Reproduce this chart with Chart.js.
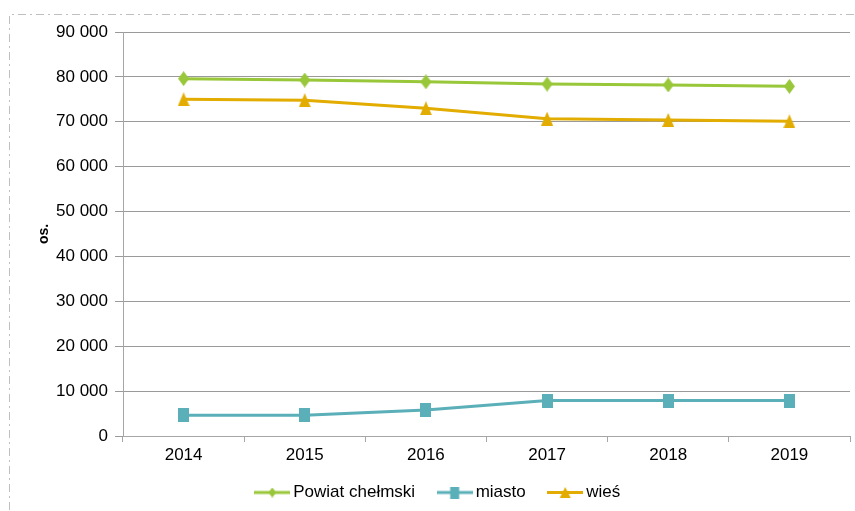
<!DOCTYPE html>
<html>
<head>
<meta charset="utf-8">
<script src="https://cdn.jsdelivr.net/npm/chart.js@4.4.0/dist/chart.umd.min.js"></script>
<style>
  html, body { margin: 0; padding: 0; background: #ffffff; }
  #wrap { width: 855px; height: 511px; position: relative; }
</style>
</head>
<body>
<div id="wrap"><canvas id="c" width="855" height="511"></canvas></div>
<script>
const categories = ['2014', '2015', '2016', '2017', '2018', '2019'];
const seriesNames = ['Powiat chełmski', 'miasto', 'wieś'];
const powiatValues = [79600, 79300, 78900, 78400, 78200, 77900];
const miastoValues = [4600, 4600, 5800, 7900, 7900, 7900];
const wiesValues = [75000, 74800, 73000, 70700, 70400, 70100];
const yTicks = [0, 10000, 20000, 30000, 40000, 50000, 60000, 70000, 80000, 90000];
const yTitle = 'os.';

const GREEN = '#99C73A';
const TEAL = '#5AAFB8';
const GOLD = '#E2AC00';
const FONT = '"Liberation Sans", Arial, sans-serif';

function makeMarker(shape, color, w, h, lineLen) {
  const cw = lineLen || w;
  const c = document.createElement('canvas');
  c.width = cw; c.height = h;
  const ctx = c.getContext('2d');
  if (lineLen) {
    ctx.strokeStyle = color; ctx.lineWidth = 3;
    ctx.beginPath(); ctx.moveTo(0, h / 2); ctx.lineTo(cw, h / 2); ctx.stroke();
  }
  const ox = (cw - w) / 2;
  ctx.fillStyle = color;
  ctx.beginPath();
  if (shape === 'diamond') {
    ctx.moveTo(ox + w / 2, 0); ctx.lineTo(ox + w, h / 2); ctx.lineTo(ox + w / 2, h); ctx.lineTo(ox, h / 2);
  } else if (shape === 'square') {
    ctx.rect(ox, 0, w, h);
  } else {
    ctx.moveTo(ox + w / 2, 0); ctx.lineTo(ox + w, h); ctx.lineTo(ox, h);
  }
  ctx.closePath(); ctx.fill();
  return c;
}

const markers = [
  makeMarker('diamond', GREEN, 11, 15),
  makeMarker('square', TEAL, 11, 14),
  makeMarker('triangle', GOLD, 12, 14)
];
const legendMarkers = [
  makeMarker('diamond', GREEN, 8, 10, 36),
  makeMarker('square', TEAL, 9, 12, 36),
  makeMarker('triangle', GOLD, 11, 11, 36)
];

function fmt(v) {
  return String(v).replace(/\B(?=(\d{3})+(?!\d))/g, ' ');
}

const borderPlugin = {
  id: 'dashBorder',
  beforeDraw(chart) {
    const ctx = chart.ctx;
    ctx.save();
    ctx.strokeStyle = '#C0C0C0';
    ctx.lineWidth = 1;
    ctx.setLineDash([8, 4, 2, 4]);
    ctx.beginPath();
    ctx.moveTo(9.5, 600); ctx.lineTo(9.5, 14.5); ctx.lineTo(900, 14.5);
    ctx.stroke();
    ctx.restore();
  }
};

const colors = [GREEN, TEAL, GOLD];
const values = [powiatValues, miastoValues, wiesValues];

new Chart(document.getElementById('c'), {
  type: 'line',
  data: {
    labels: categories,
    datasets: seriesNames.map((name, i) => ({
      label: name,
      data: values[i],
      borderColor: colors[i],
      backgroundColor: colors[i],
      borderWidth: 3,
      pointStyle: markers[i],
      pointRadius: 6,
      pointHoverRadius: 6,
      tension: 0,
      fill: false
    }))
  },
  options: {
    responsive: false,
    animation: false,
    devicePixelRatio: 1,
    layout: { autoPadding: false, padding: { left: 30, right: 5, top: 32, bottom: 0 } },
    plugins: {
      tooltip: { enabled: false },
      legend: {
        position: 'bottom',
        labels: {
          usePointStyle: true,
          pointStyleWidth: 25,
          padding: 27,
          color: '#000000',
          font: { family: FONT, size: 17 },
          generateLabels(chart) {
            const items = Chart.defaults.plugins.legend.labels.generateLabels(chart);
            items.forEach((it, i) => { it.pointStyle = legendMarkers[i]; });
            return items;
          }
        }
      }
    },
    scales: {
      x: {
        offset: true,
        grid: { offset: true, drawOnChartArea: false, drawTicks: true, tickLength: 6, color: '#A6A6A6' },
        border: { color: '#A6A6A6', width: 1 },
        ticks: { color: '#000000', font: { family: FONT, size: 17 }, padding: 3, maxRotation: 0 },
        afterFit(scale) {
          scale.height = 21;
          scale.paddingLeft = 0;
          scale.paddingRight = 0;
          scale._computeLabelArea = function () { return undefined; };
        }
      },
      y: {
        min: 0,
        max: 90000,
        afterBuildTicks(scale) { scale.ticks = yTicks.map(v => ({ value: v })); },
        grid: { color: '#9A9A9A', tickLength: 8, drawTicks: true },
        border: { color: '#A6A6A6', width: 1 },
        ticks: { color: '#000000', font: { family: FONT, size: 17 }, padding: 7, callback: v => fmt(v) },
        title: { display: true, text: yTitle, color: '#000000', font: { family: FONT, size: 14, weight: 'bold' }, padding: { top: 6, bottom: 2 } },
        afterFit(scale) { scale.width = 93; }
      }
    }
  },
  plugins: [borderPlugin]
});
</script>
</body>
</html>
